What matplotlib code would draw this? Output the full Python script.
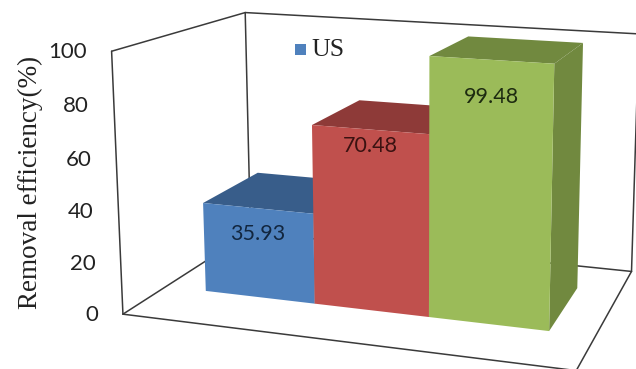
import numpy as np
import matplotlib
matplotlib.use('Agg')
import matplotlib.pyplot as plt
from matplotlib.patches import Polygon

values = [35.93, 70.48, 99.48]
value_labels = ['35.93', '70.48', '99.48']
y_ticks = [0, 20, 40, 60, 80, 100]
legend_name = 'US'
y_title = 'Removal efficiency(%)'

front_colors = ['#4F81BD', '#C0504D', '#9BBB59']
dark_colors = ['#385D8A', '#8E3A38', '#71893F']
text_colors = ['#12263F', '#3A1211', '#1D2A10']

# chart box: (x, value, depth) -> pixel, used to solve the camera
box_world = [(0, 0, 0), (0, 100, 0), (0, 0, 1), (0, 100, 1), (1, 0, 0), (1, 100, 0), (1, 0, 1), (1, 100, 1)]
box_pixel = [(123, 312), (110, 52), (250, 234), (247, 12), (575, 370), (586, 84), (633, 272), (636, 32)]

# bar layout in box units
bar_start = 0.10
bar_width = 0.267
depth_front = 0.30
depth_back = 0.75
label_drop = [26, 16, 37]


def solve_camera(world, pixel):
    rows, rhs = [], []
    for (x, y, z), (u, v) in zip(world, pixel):
        y = y / 100
        rows.append([x, y, z, 1, 0, 0, 0, 0, -u * x, -u * y, -u * z])
        rhs.append(u)
        rows.append([0, 0, 0, 0, x, y, z, 1, -v * x, -v * y, -v * z])
        rhs.append(v)
    p = np.linalg.lstsq(np.array(rows, float), np.array(rhs, float), rcond=None)[0]
    return np.append(p, 1).reshape(3, 4)


cam = solve_camera(box_world, box_pixel)


def proj(x, val, z):
    h = cam @ np.array([x, val / 100, z, 1])
    return h[0] / h[2], h[1] / h[2]


fig = plt.figure(figsize=(6.36, 3.69), dpi=100)
ax = fig.add_axes([0, 0, 1, 1])
ax.set_xlim(0, 636)
ax.set_ylim(369, 0)
ax.axis('off')

# walls and floor outline
edges = [
    ((0, 0, 0), (0, 100, 0)), ((0, 100, 0), (0, 100, 1)), ((0, 100, 1), (1, 100, 1)),
    ((0, 100, 1), (0, 0, 1)), ((1, 100, 1), (1, 0, 1)), ((0, 0, 0), (0, 0, 1)),
    ((0, 0, 1), (1, 0, 1)), ((0, 0, 0), (1, 0, 0)), ((1, 0, 0), (1, 0, 1)),
]
for a, b in edges:
    pa, pb = proj(*a), proj(*b)
    ax.plot([pa[0], pb[0]], [pa[1], pb[1]], color='#3A3A3A', lw=1.1, zorder=1, solid_capstyle='round')

# bars, drawn left to right so each one overlaps the previous
for i, val in enumerate(values):
    x0 = bar_start + i * bar_width
    x1 = x0 + bar_width
    top = [proj(x0, val, depth_front), proj(x1, val, depth_front), proj(x1, val, depth_back), proj(x0, val, depth_back)]
    side = [proj(x1, 0, depth_front), proj(x1, val, depth_front), proj(x1, val, depth_back), proj(x1, 0, depth_back)]
    front = [proj(x0, 0, depth_front), proj(x1, 0, depth_front), proj(x1, val, depth_front), proj(x0, val, depth_front)]
    ax.add_patch(Polygon(side, closed=True, fc=dark_colors[i], ec='none', zorder=2 + i))
    ax.add_patch(Polygon(top, closed=True, fc=dark_colors[i], ec='none', zorder=2 + i))
    ax.add_patch(Polygon(front, closed=True, fc=front_colors[i], ec='none', zorder=2 + i))
    cx, cy = proj((x0 + x1) / 2, val, depth_front)
    ax.text(cx, cy + label_drop[i], value_labels[i], family='Lato', fontsize=15.5, color=text_colors[i],
            ha='center', va='center', zorder=10)

# value axis labels follow the front left edge
for t in y_ticks:
    px, py = proj(0, t, 0)
    ax.text(px - 25, py + 1, str(t), family='Lato', fontsize=16, color='#222222', ha='right', va='center')

ax.text(30, 182, y_title, family='Liberation Serif', fontsize=19.5, color='#222222', rotation=90,
        ha='center', va='center')

# legend
ax.add_patch(Polygon([(295, 44), (306, 44), (306, 55), (295, 55)], closed=True, fc=front_colors[0], ec='none'))
ax.text(311, 50, legend_name, family='Liberation Serif', fontsize=18.5, color='#222222', ha='left', va='center')

plt.savefig('out.png', dpi=100)
plt.close()
